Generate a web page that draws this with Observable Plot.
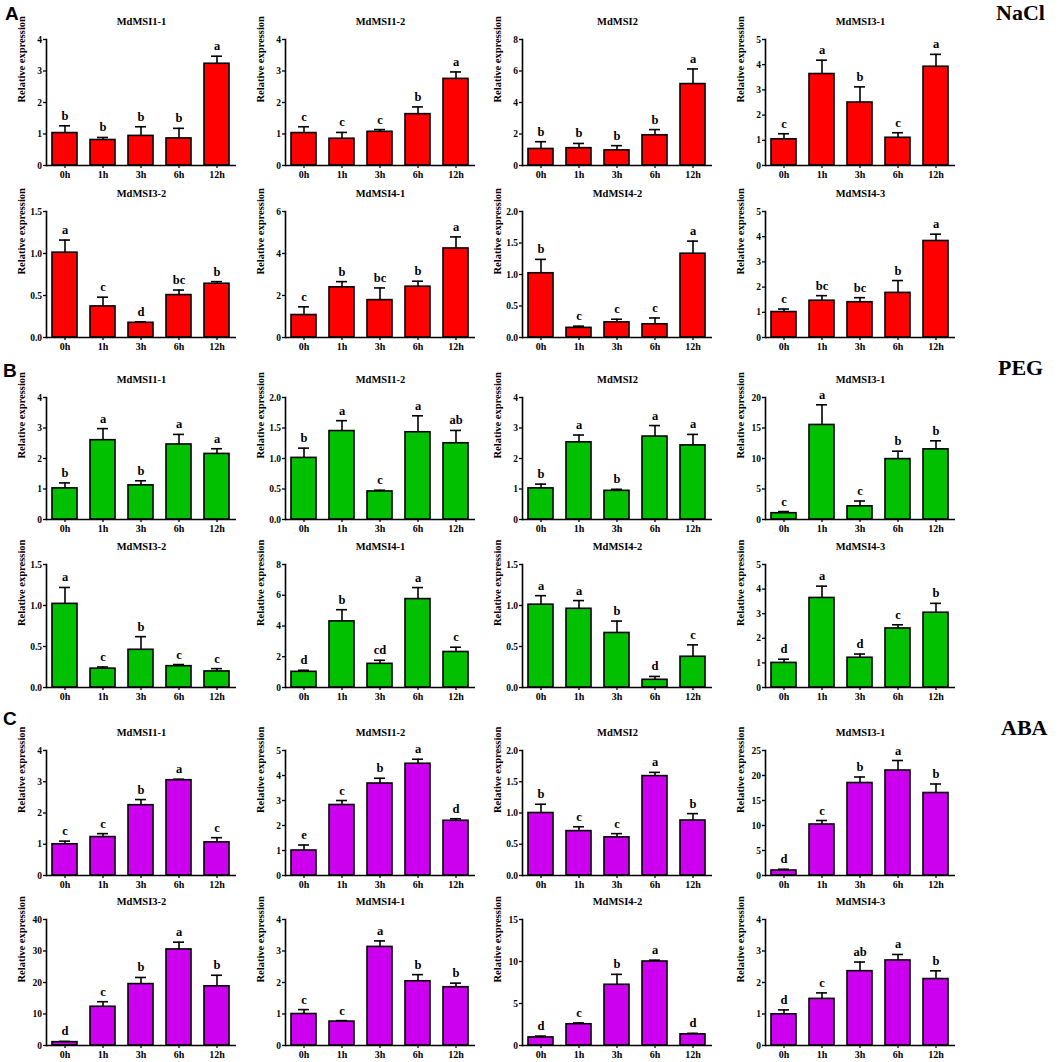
<!DOCTYPE html>
<html>
<head>
<meta charset="utf-8">
<script src="https://cdn.jsdelivr.net/npm/d3@7"></script>
<script src="https://cdn.jsdelivr.net/npm/@observablehq/plot@0.6"></script>
<style>
  html, body { margin: 0; padding: 0; background: #fff; }
  #root { position: relative; width: 1059px; height: 1062px; overflow: hidden; background: #fff; }
  .panel { position: absolute; }
  .treat { position: absolute; font-family: "Liberation Serif", "Times New Roman", serif; font-weight: bold; font-size: 22px; line-height: 1; color: #000; }
  .sec { position: absolute; font-family: "Liberation Sans", Arial, sans-serif; font-weight: bold; font-size: 19px; line-height: 1; color: #000; }
</style>
</head>
<body>
<div id="root"></div>
<script>
// ---------------- DATA ----------------
const times = ["0h", "1h", "3h", "6h", "12h"];
const genes = ["MdMSI1-1", "MdMSI1-2", "MdMSI2", "MdMSI3-1", "MdMSI3-2", "MdMSI4-1", "MdMSI4-2", "MdMSI4-3"];
const treatments = ["NaCl", "PEG", "ABA"];
const sectionLetters = ["A", "B", "C"];

// NaCl
const naclMean = [
  [1.03, 0.81, 0.94, 0.86, 3.23],
  [1.03, 0.85, 1.07, 1.63, 2.75],
  [1.05, 1.10, 0.96, 1.92, 5.17],
  [1.04, 3.63, 2.50, 1.10, 3.92],
  [1.01, 0.37, 0.175, 0.505, 0.64],
  [1.07, 2.39, 1.78, 2.42, 4.24],
  [1.02, 0.153, 0.24, 0.21, 1.33],
  [1.01, 1.46, 1.40, 1.77, 3.83]
];
const naclErr = [
  [0.23, 0.08, 0.29, 0.32, 0.24],
  [0.20, 0.20, 0.07, 0.23, 0.22],
  [0.46, 0.30, 0.30, 0.36, 0.96],
  [0.22, 0.55, 0.62, 0.20, 0.49],
  [0.15, 0.11, 0.012, 0.06, 0.025],
  [0.39, 0.27, 0.58, 0.26, 0.55],
  [0.22, 0.027, 0.05, 0.10, 0.20],
  [0.12, 0.20, 0.18, 0.49, 0.27]
];
const naclLetters = [
  ["b", "b", "b", "b", "a"],
  ["c", "c", "c", "b", "a"],
  ["b", "b", "b", "b", "a"],
  ["c", "a", "b", "c", "a"],
  ["a", "c", "d", "bc", "b"],
  ["c", "b", "bc", "b", "a"],
  ["b", "c", "c", "c", "a"],
  ["c", "bc", "bc", "b", "a"]
];
const naclTicks = [
  [0, 1, 2, 3, 4],
  [0, 1, 2, 3, 4],
  [0, 2, 4, 6, 8],
  [0, 1, 2, 3, 4, 5],
  [0, 0.5, 1.0, 1.5],
  [0, 2, 4, 6],
  [0, 0.5, 1.0, 1.5, 2.0],
  [0, 1, 2, 3, 4, 5]
];

// PEG
const pegMean = [
  [1.02, 2.60, 1.12, 2.46, 2.15],
  [1.01, 1.45, 0.46, 1.43, 1.25],
  [1.02, 2.53, 0.94, 2.72, 2.43],
  [1.03, 15.5, 2.16, 9.9, 11.5],
  [1.02, 0.23, 0.46, 0.26, 0.196],
  [1.02, 4.30, 1.54, 5.75, 2.31],
  [1.01, 0.96, 0.665, 0.094, 0.375],
  [1.00, 3.64, 1.21, 2.40, 3.04]
];
const pegErr = [
  [0.18, 0.38, 0.15, 0.33, 0.17],
  [0.16, 0.17, 0.02, 0.27, 0.21],
  [0.14, 0.24, 0.05, 0.36, 0.36],
  [0.27, 3.3, 0.87, 1.3, 1.4],
  [0.20, 0.02, 0.16, 0.02, 0.034],
  [0.10, 0.76, 0.23, 0.75, 0.31],
  [0.11, 0.10, 0.145, 0.041, 0.145],
  [0.15, 0.48, 0.15, 0.15, 0.38]
];
const pegLetters = [
  ["b", "a", "b", "a", "a"],
  ["b", "a", "c", "a", "ab"],
  ["b", "a", "b", "a", "a"],
  ["c", "a", "c", "b", "b"],
  ["a", "c", "b", "c", "c"],
  ["d", "b", "cd", "a", "c"],
  ["a", "a", "b", "d", "c"],
  ["d", "a", "d", "c", "b"]
];
const pegTicks = [
  [0, 1, 2, 3, 4],
  [0, 0.5, 1.0, 1.5, 2.0],
  [0, 1, 2, 3, 4],
  [0, 5, 10, 15, 20],
  [0, 0.5, 1.0, 1.5],
  [0, 2, 4, 6, 8],
  [0, 0.5, 1.0, 1.5],
  [0, 1, 2, 3, 4, 5]
];

// ABA
const abaMean = [
  [1.00, 1.23, 2.25, 3.05, 1.06],
  [1.00, 2.82, 3.68, 4.47, 2.19],
  [1.00, 0.71, 0.61, 1.59, 0.88],
  [1.00, 10.2, 18.5, 21.0, 16.5],
  [1.06, 12.3, 19.5, 30.5, 18.8],
  [1.00, 0.76, 3.13, 2.04, 1.85],
  [0.96, 2.53, 7.23, 10.0, 1.33],
  [0.99, 1.48, 2.36, 2.70, 2.11]
];
const abaErr = [
  [0.10, 0.11, 0.18, 0.03, 0.15],
  [0.22, 0.18, 0.21, 0.18, 0.08],
  [0.14, 0.07, 0.06, 0.06, 0.11],
  [0.25, 0.8, 1.2, 2.0, 1.8],
  [0.24, 1.6, 2.1, 2.3, 3.5],
  [0.14, 0.03, 0.19, 0.21, 0.13],
  [0.16, 0.16, 1.24, 0.16, 0.12],
  [0.14, 0.19, 0.29, 0.19, 0.26]
];
const abaLetters = [
  ["c", "c", "b", "a", "c"],
  ["e", "c", "b", "a", "d"],
  ["b", "c", "c", "a", "b"],
  ["d", "c", "b", "a", "b"],
  ["d", "c", "b", "a", "b"],
  ["c", "c", "a", "b", "b"],
  ["d", "c", "b", "a", "d"],
  ["d", "c", "ab", "a", "b"]
];
const abaTicks = [
  [0, 1, 2, 3, 4],
  [0, 1, 2, 3, 4, 5],
  [0, 0.5, 1.0, 1.5, 2.0],
  [0, 5, 10, 15, 20, 25],
  [0, 10, 20, 30, 40],
  [0, 1, 2, 3, 4],
  [0, 5, 10, 15],
  [0, 1, 2, 3, 4]
];

// ---------------- STYLE / LAYOUT ----------------
const sections = [
  {mean: naclMean, err: naclErr, letters: naclLetters, ticks: naclTicks, color: "#ff0000"},
  {mean: pegMean, err: pegErr, letters: pegLetters, ticks: pegTicks, color: "#00c000"},
  {mean: abaMean, err: abaErr, letters: abaLetters, ticks: abaTicks, color: "#cc00ee"}
];
// y pixel of top tick and of zero line, per section and row
const rowTop = [[39, 211], [397, 564], [750, 919]];
const rowZero = [[165, 337], [519, 687], [875, 1045]];
// x pixel of the y axis per column
const colAxis = [46, 285, 522, 765];
const secLetterPos = [[5, 4], [3, 361], [3, 709]];
const treatPos = [[996, 2], [998, 357], [1001, 717]];

const FONT = "'Liberation Serif', 'Times New Roman', serif";
const ML = 46, FW = 190, MR = 8, MT = 28, MB = 20;

function panel(mean, err, letters, ticks, color, title, plotH) {
  const data = times.map((t, i) => ({time: t, mean: mean[i], top: mean[i] + err[i], letter: letters[i]}));
  const dec = ticks.some(v => !Number.isInteger(v));
  const fmt = dec ? d3.format(".1f") : d3.format("d");
  const W = ML + FW + MR;
  const H = MT + plotH + MB;
  return Plot.plot({
    width: W,
    height: H,
    marginLeft: ML,
    marginRight: MR,
    marginTop: MT,
    marginBottom: MB,
    style: {fontFamily: FONT, fontWeight: "bold", fontSize: "9px", color: "#000", background: "transparent", overflow: "visible"},
    x: {domain: times, range: [ML, ML + FW], paddingInner: 0.34, paddingOuter: 0.17},
    y: {domain: [0, ticks[ticks.length - 1]], nice: false},
    marks: [
      Plot.barY(data, {x: "time", y: "mean", fill: color, stroke: "#000", strokeWidth: 1.6}),
      Plot.ruleX(data, {x: "time", y1: "mean", y2: "top", stroke: "#000", strokeWidth: 1.6}),
      Plot.tickY(data, {x: "time", y: "top", stroke: "#000", strokeWidth: 1.6, insetLeft: 7, insetRight: 7}),
      Plot.text(data, {x: "time", y: "top", text: "letter", dy: -10, fontSize: 12.5, fontWeight: "bold", fill: "#000"}),
      Plot.ruleY([0], {stroke: "#000", strokeWidth: 1.6}),
      Plot.frame({anchor: "left", stroke: "#000", strokeWidth: 1.6}),
      Plot.axisY({ticks: ticks, tickFormat: fmt, tickSize: 3, tickPadding: 1.5, label: null, fontSize: 9.5, strokeWidth: 1.3}),
      Plot.axisX({tickSize: 3, tickPadding: 2, label: null, fontSize: 10, strokeWidth: 1.3}),
      Plot.text(["Relative expression"], {frameAnchor: "left", rotate: -90, dx: -25, fontSize: 10.5, fontWeight: "bold", fill: "#000"}),
      Plot.text([title], {frameAnchor: "top", lineAnchor: "middle", dy: -18, fontSize: 10.5, fontWeight: "bold", fill: "#000"})
    ]
  });
}

const root = document.getElementById("root");
sections.forEach((sec, s) => {
  for (let r = 0; r < 2; r++) {
    for (let c = 0; c < 4; c++) {
      const g = r * 4 + c;
      const plotH = rowZero[s][r] - rowTop[s][r];
      const svg = panel(sec.mean[g], sec.err[g], sec.letters[g], sec.ticks[g], sec.color, genes[g], plotH);
      const wrap = document.createElement("div");
      wrap.className = "panel";
      wrap.style.left = (colAxis[c] - ML) + "px";
      wrap.style.top = (rowTop[s][r] - MT) + "px";
      wrap.appendChild(svg);
      root.appendChild(wrap);
    }
  }
  const L = document.createElement("div");
  L.className = "sec";
  L.textContent = sectionLetters[s];
  L.style.left = secLetterPos[s][0] + "px";
  L.style.top = secLetterPos[s][1] + "px";
  root.appendChild(L);
  const T = document.createElement("div");
  T.className = "treat";
  T.textContent = treatments[s];
  T.style.left = treatPos[s][0] + "px";
  T.style.top = treatPos[s][1] + "px";
  root.appendChild(T);
});
</script>
</body>
</html>
